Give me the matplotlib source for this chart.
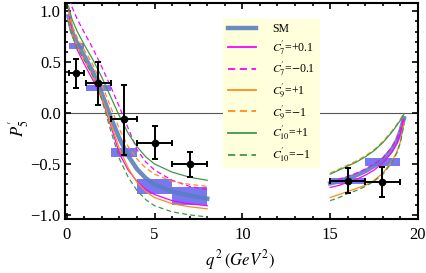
import numpy as np
import matplotlib.pyplot as plt
from matplotlib.ticker import MultipleLocator

plt.rcParams['font.family'] = 'Liberation Serif'
plt.rcParams['mathtext.fontset'] = 'stix'

# theory curves, low q^2 region
q_lo = [0.1, 0.3, 0.6, 1.0, 1.5, 2.0, 2.5, 3.0, 3.5, 4.0, 4.5, 5.0, 6.0, 7.0, 8.0]
sm_lo = [0.95, 0.80, 0.68, 0.56, 0.40, 0.19, -0.04, -0.25, -0.42, -0.55, -0.64, -0.70, -0.77, -0.81, -0.84]
c7p_lo = [1.02, 0.78, 0.62, 0.48, 0.32, 0.14, -0.12, -0.40, -0.56, -0.67, -0.75, -0.80, -0.86, -0.89, -0.91]
c7m_lo = [1.15, 1.04, 0.92, 0.79, 0.63, 0.45, 0.26, 0.06, -0.15, -0.36, -0.48, -0.56, -0.66, -0.72, -0.75]
c9p_lo = [0.92, 0.77, 0.65, 0.52, 0.36, 0.15, -0.10, -0.35, -0.54, -0.68, -0.77, -0.83, -0.89, -0.92, -0.94]
c9m_lo = [1.00, 0.86, 0.74, 0.62, 0.47, 0.28, 0.06, -0.16, -0.33, -0.45, -0.54, -0.60, -0.67, -0.70, -0.72]
c10p_lo = [1.05, 0.92, 0.80, 0.67, 0.52, 0.35, 0.16, -0.03, -0.20, -0.33, -0.43, -0.50, -0.58, -0.63, -0.66]
c10m_lo = [0.90, 0.76, 0.64, 0.52, 0.36, 0.13, -0.17, -0.45, -0.63, -0.76, -0.85, -0.91, -0.97, -1.00, -1.02]

# theory curves, high q^2 region
q_hi = [15.0, 15.5, 16.0, 16.5, 17.0, 17.5, 18.0, 18.5, 18.8, 19.0, 19.2]
sm_hi = [-0.69, -0.67, -0.64, -0.61, -0.57, -0.52, -0.46, -0.36, -0.27, -0.18, -0.05]
c7p_hi = [-0.73, -0.71, -0.68, -0.65, -0.61, -0.56, -0.49, -0.39, -0.30, -0.20, -0.06]
c7m_hi = [-0.67, -0.65, -0.62, -0.59, -0.55, -0.50, -0.44, -0.34, -0.25, -0.16, -0.04]
c9p_hi = [-0.83, -0.80, -0.77, -0.74, -0.71, -0.66, -0.59, -0.48, -0.38, -0.28, -0.10]
c9m_hi = [-0.59, -0.55, -0.51, -0.47, -0.42, -0.36, -0.28, -0.18, -0.11, -0.06, 0.00]
c10p_hi = [-0.60, -0.56, -0.52, -0.48, -0.43, -0.37, -0.29, -0.19, -0.12, -0.07, -0.01]
c10m_hi = [-0.86, -0.83, -0.79, -0.76, -0.72, -0.67, -0.60, -0.49, -0.39, -0.29, -0.11]

# SM binned predictions
bin_lo = [0.1, 1.1, 2.5, 4.0, 6.0, 15.0, 17.0]
bin_hi = [1.0, 2.5, 4.0, 6.0, 8.0, 17.0, 19.0]
pred_lo = [0.63, 0.22, -0.43, -0.79, -0.90, -0.70, -0.52]
pred_hi = [0.69, 0.28, -0.34, -0.65, -0.73, -0.64, -0.44]

# measurements
meas_q = [0.55, 1.8, 3.25, 5.0, 7.0, 16.0, 17.95]
meas_qlo = [0.1, 1.1, 2.5, 4.0, 6.0, 15.0, 17.0]
meas_qhi = [1.0, 2.5, 4.0, 6.0, 8.0, 17.0, 19.0]
meas_y = [0.39, 0.29, -0.06, -0.29, -0.50, -0.67, -0.68]
meas_ylo = [0.245, 0.08, -0.41, -0.45, -0.63, -0.78, -0.82]
meas_yhi = [0.53, 0.50, 0.28, -0.13, -0.38, -0.54, -0.53]

fig = plt.figure(figsize=(4.27, 2.73), dpi=100)
ax = fig.add_axes([0.1522, 0.1978, 0.8267, 0.7912])

ax.axhline(0, color='#555555', lw=0.8, zorder=1)

# bins
ax.bar(bin_lo, np.array(pred_hi) - np.array(pred_lo), width=np.array(bin_hi) - np.array(bin_lo),
       bottom=pred_lo, align='edge', color='#3030ee', alpha=0.65, lw=0, zorder=2)

curves = [
    ('SM', sm_lo, sm_hi, dict(color='#5a7fc0', lw=3.2, alpha=0.9)),
    (r"$C_7'$=+0.1", c7p_lo, c7p_hi, dict(color='#ff00ff', lw=0.9)),
    (r"$C_7'$=$-$0.1", c7m_lo, c7m_hi, dict(color='#ff00ff', lw=0.9, ls=(0, (4, 2.5)))),
    (r"$C_9'$=+1", c9p_lo, c9p_hi, dict(color='#ff8c1a', lw=0.9)),
    (r"$C_9'$=$-$1", c9m_lo, c9m_hi, dict(color='#ff8c1a', lw=0.9, ls=(0, (4, 2.5)))),
    (r"$C_{10}'$=+1", c10p_lo, c10p_hi, dict(color='#3c9a48', lw=0.9)),
    (r"$C_{10}'$=$-$1", c10m_lo, c10m_hi, dict(color='#3c9a48', lw=0.9, ls=(0, (4, 2.5)))),
]
handles = []
for label, ylo, yhi, st in curves:
    h, = ax.plot(q_lo, ylo, label=label, zorder=3, **st)
    ax.plot(q_hi, yhi, zorder=3, **st)
    handles.append(h)

# data points
meas_q = np.array(meas_q)
meas_y = np.array(meas_y)
xerr = [meas_q - np.array(meas_qlo), np.array(meas_qhi) - meas_q]
yerr = [meas_y - np.array(meas_ylo), np.array(meas_yhi) - meas_y]
ax.errorbar(meas_q, meas_y, xerr=xerr, yerr=yerr, fmt='o', color='black', ms=4.5,
            lw=1.4, capsize=2.5, capthick=1.4, zorder=5)

ax.set_xlim(-0.1, 19.95)
ax.set_ylim(-1.04, 1.08)
ax.xaxis.set_minor_locator(MultipleLocator(1))
ax.yaxis.set_minor_locator(MultipleLocator(0.1))
ax.set_xticks([0, 5, 10, 15, 20])
ax.set_xticklabels(['0', '5', '10', '15', '20'])
ax.set_yticks([-1.0, -0.5, 0.0, 0.5, 1.0])
ax.set_yticklabels(['\u22121.0', '\u22120.5', '0.0', '0.5', '1.0'])
ax.tick_params(which='both', direction='in', top=True, right=True, labelsize=12, width=1.2)
ax.tick_params(axis='x', pad=6)
ax.tick_params(axis='y', pad=3)
ax.tick_params(which='major', length=4)
ax.tick_params(which='minor', length=2.5)
for s in ax.spines.values():
    s.set_linewidth(1.5)

ax.set_xlabel(r"$q^{\,2}\,(GeV^2)$", fontsize=12)
ax.xaxis.set_label_coords(0.496, -0.135)
ax.set_ylabel(r"$P_5'$", fontsize=12)
ax.yaxis.set_label_coords(-0.095, 0.42)

leg = ax.legend(handles=handles, loc='upper left', bbox_to_anchor=(0.432, 0.955), fontsize=8.5,
                handlelength=2.4, labelspacing=0.32, borderpad=0.35, handletextpad=1.4,
                fancybox=False, framealpha=1, facecolor='#ffffdc', edgecolor='none')
leg.set_zorder(4)
for lh in leg.get_lines()[1:]:
    lh.set_linewidth(1.3)

fig.savefig('out.png', dpi=100)
